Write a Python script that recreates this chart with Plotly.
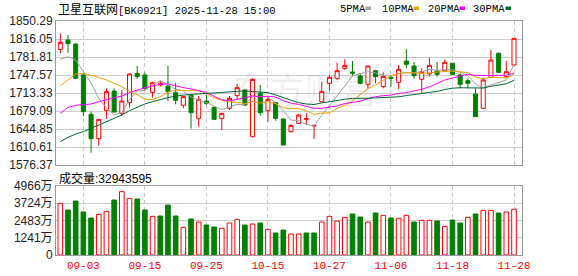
import plotly.graph_objects as go

# ---------------- data ----------------
dates = ["2025-08-29", "2025-09-01", "2025-09-02", "2025-09-03", "2025-09-04", "2025-09-05",
         "2025-09-08", "2025-09-09", "2025-09-10", "2025-09-11", "2025-09-12", "2025-09-15",
         "2025-09-16", "2025-09-17", "2025-09-18", "2025-09-19", "2025-09-22", "2025-09-23",
         "2025-09-24", "2025-09-25", "2025-09-26", "2025-09-29", "2025-09-30", "2025-10-09",
         "2025-10-10", "2025-10-13", "2025-10-14", "2025-10-15", "2025-10-16", "2025-10-17",
         "2025-10-20", "2025-10-21", "2025-10-22", "2025-10-23", "2025-10-24", "2025-10-27",
         "2025-10-28", "2025-10-29", "2025-10-30", "2025-10-31", "2025-11-03", "2025-11-04",
         "2025-11-05", "2025-11-06", "2025-11-07", "2025-11-10", "2025-11-11", "2025-11-12",
         "2025-11-13", "2025-11-14", "2025-11-17", "2025-11-18", "2025-11-19", "2025-11-20",
         "2025-11-21", "2025-11-24", "2025-11-25", "2025-11-26", "2025-11-27", "2025-11-28"]

open_ = [1796.4, 1814.2, 1806.5, 1747.6, 1672.7, 1626.4, 1680.4, 1717.1, 1674.6, 1694.9,
         1750.8, 1747.6, 1714.6, 1728.5, 1726.6, 1714.0, 1689.9, 1709.5, 1665.1, 1698.1,
         1686.1, 1665.1, 1684.2, 1708.3, 1719.0, 1630.3, 1712.7, 1679.7, 1694.9, 1663.9,
         1639.8, 1655.6, 1663.2, 1650.6, 1696.8, 1731.7, 1741.2, 1760.2, 1753.3, 1745.7,
         1729.8, 1755.8, 1725.4, 1743.1, 1733.6, 1774.2, 1764.7, 1739.3, 1749.5, 1755.2,
         1755.8, 1769.8, 1747.6, 1736.8, 1711.4, 1684.2, 1743.1, 1788.8, 1744.4, 1766.6]
high = [1826.8, 1823.7, 1808.0, 1750.8, 1677.8, 1664.0, 1722.2, 1722.2, 1719.0, 1750.8,
        1764.7, 1752.6, 1734.9, 1737.4, 1764.7, 1732.9, 1707.6, 1711.4, 1707.6, 1709.5,
        1687.0, 1675.9, 1707.6, 1730.4, 1720.3, 1741.2, 1728.5, 1707.6, 1696.8, 1664.5,
        1653.7, 1673.4, 1674.6, 1651.8, 1734.9, 1747.6, 1771.0, 1777.4, 1774.2, 1750.8,
        1765.3, 1757.1, 1752.6, 1747.6, 1766.6, 1797.0, 1772.3, 1760.2, 1781.2, 1772.3,
        1777.4, 1770.4, 1750.8, 1741.2, 1722.2, 1743.1, 1795.1, 1790.7, 1774.2, 1817.3]
low = [1788.8, 1790.1, 1739.3, 1669.6, 1599.8, 1613.1, 1663.9, 1675.9, 1669.6, 1685.4,
       1740.0, 1717.8, 1704.4, 1725.4, 1698.1, 1691.8, 1684.2, 1645.5, 1649.3, 1690.5,
       1662.0, 1642.9, 1681.0, 1701.9, 1688.6, 1629.0, 1670.2, 1658.8, 1660.7, 1613.8,
       1637.9, 1654.3, 1652.4, 1625.8, 1696.2, 1717.8, 1738.1, 1757.1, 1745.7, 1729.8,
       1722.2, 1731.7, 1722.2, 1725.4, 1720.9, 1760.2, 1740.6, 1711.4, 1744.4, 1744.4,
       1753.9, 1747.6, 1722.2, 1722.2, 1668.3, 1683.5, 1741.2, 1750.8, 1743.1, 1766.6]
close = [1809.7, 1807.2, 1741.2, 1677.8, 1626.4, 1663.2, 1715.9, 1677.2, 1698.1, 1749.5,
         1744.4, 1722.2, 1732.9, 1731.7, 1715.9, 1699.4, 1706.4, 1675.9, 1701.3, 1693.7,
         1663.2, 1674.6, 1703.2, 1723.5, 1690.5, 1739.3, 1675.9, 1701.3, 1665.1, 1614.4,
         1651.8, 1671.5, 1664.5, 1651.8, 1715.9, 1743.1, 1755.8, 1765.9, 1750.8, 1731.7,
         1764.7, 1744.4, 1745.0, 1741.2, 1758.4, 1767.9, 1746.3, 1753.9, 1765.9, 1748.8,
         1771.7, 1748.8, 1729.8, 1731.7, 1668.3, 1738.1, 1776.1, 1752.6, 1753.9, 1817.3]

ma5 = [1777.4, 1782.4, 1776.1, 1755.0, 1732.5, 1703.2, 1684.9, 1672.1, 1676.2, 1700.8,
       1717.0, 1718.3, 1729.4, 1736.1, 1729.4, 1720.4, 1717.3, 1705.9, 1699.8, 1695.3,
       1688.1, 1681.7, 1687.2, 1691.6, 1691.0, 1706.2, 1706.5, 1706.1, 1694.4, 1679.2,
       1661.7, 1660.8, 1653.5, 1650.8, 1671.1, 1689.4, 1706.2, 1726.5, 1746.3, 1749.5,
       1753.8, 1751.5, 1747.3, 1745.4, 1750.7, 1751.4, 1751.6, 1753.5, 1758.5, 1756.6,
       1757.3, 1757.8, 1753.0, 1746.2, 1730.1, 1723.3, 1728.8, 1733.4, 1737.8, 1767.6]
ma10 = [1727.3, 1738.0, 1749.5, 1750.7, 1747.6, 1743.1, 1738.1, 1731.7, 1725.4, 1716.6,
        1710.1, 1701.6, 1700.8, 1706.2, 1715.1, 1718.7, 1717.8, 1717.6, 1718.0, 1712.4,
        1704.3, 1699.5, 1696.5, 1695.7, 1693.2, 1697.2, 1694.1, 1696.7, 1693.0, 1685.1,
        1684.0, 1683.7, 1679.8, 1672.6, 1675.2, 1675.5, 1683.5, 1690.0, 1698.6, 1710.3,
        1721.6, 1728.9, 1736.9, 1745.8, 1750.0, 1752.5, 1751.6, 1750.4, 1751.9, 1753.6,
        1754.3, 1754.7, 1753.3, 1752.3, 1743.3, 1740.3, 1743.3, 1743.2, 1742.0, 1748.8]
ma20 = [1674.6, 1686.0, 1689.9, 1691.1, 1692.4, 1696.8, 1700.0, 1703.2, 1707.6, 1714.0,
        1719.0, 1723.5, 1726.6, 1729.8, 1730.4, 1726.6, 1723.5, 1720.9, 1717.8, 1714.5,
        1707.2, 1700.5, 1698.6, 1700.9, 1704.1, 1707.9, 1705.9, 1707.1, 1705.5, 1698.7,
        1694.1, 1691.6, 1688.2, 1684.2, 1684.2, 1686.3, 1688.8, 1693.3, 1695.8, 1697.7,
        1702.8, 1706.3, 1708.3, 1709.2, 1712.6, 1714.0, 1717.5, 1720.2, 1725.2, 1731.9,
        1737.9, 1741.8, 1745.1, 1749.1, 1746.7, 1746.4, 1747.4, 1746.8, 1746.9, 1751.2]
ma30 = [1620.8, 1629.0, 1635.3, 1639.8, 1646.1, 1652.5, 1658.8, 1663.9, 1671.5, 1679.7,
        1686.1, 1692.4, 1696.8, 1701.3, 1704.4, 1707.6, 1709.5, 1710.8, 1711.4, 1712.7,
        1714.0, 1715.2, 1716.5, 1716.5, 1717.1, 1716.5, 1715.9, 1714.0, 1709.5, 1704.7,
        1699.4, 1694.9, 1692.4, 1691.5, 1694.5, 1697.1, 1698.5, 1701.4, 1703.2, 1702.6,
        1703.3, 1704.0, 1704.4, 1704.7, 1706.1, 1708.4, 1709.7, 1712.3, 1714.5, 1716.3,
        1720.0, 1722.4, 1723.3, 1723.6, 1722.8, 1722.8, 1726.1, 1727.8, 1730.8, 1737.6]

# volume in units of 万 (10,000 shares)
volume = [3720, 3239, 3886, 3095, 2663, 2927, 3143, 3958, 4558, 4078,
          4030, 3239, 2783, 2807, 3598, 2807, 1991, 2591, 2375, 2159,
          2015, 1919, 2303, 2567, 2159, 2231, 2303, 1847, 1583, 1799,
          1511, 1511, 1583, 1583, 2375, 2783, 2447, 2711, 2951, 2735,
          2375, 3023, 2855, 2663, 2639, 2855, 2375, 2495, 2495, 2447,
          2063, 2519, 2303, 2711, 2951, 3215, 3215, 3023, 3095, 3294]
first_day_up = True
last_volume = "32943595"

price_ticks = [1576.37, 1610.61, 1644.85, 1679.09, 1713.33, 1747.57, 1781.81, 1816.05, 1850.29]
vol_ticks = [0, 1241.5, 2483, 3724.5, 4966]
vol_tick_text = ["0", "1241万", "2483万", "3724万", "4966万"]
date_tick_labels = ["09-03", "09-15", "09-25", "10-15", "10-27", "11-06", "11-18", "11-28"]

title_name = "卫星互联网"
title_rest = "[BK0921] 2025-11-28 15:00"
ma_names = ["5PMA", "10PMA", "20PMA", "30PMA"]

# ---------------- style ----------------
RED = "#ff0000"
GREEN = "#008000"
MA_COLORS = ["#a0a0a0", "#f0a000", "#ff00ff", "#006633"]
GRID = "#cccccc"
BORDER = "#999999"

W, H = 578, 276
ML, MR, MT, MB = 56, 56, 21, 21
PW = W - ML - MR
PH = H - MT - MB

def px_x(px):
    return (px - ML) / PW

def px_y(py):
    return (H - MB - py) / PH

idx = list(range(len(dates)))
tick_pos = [next(i for i, d in enumerate(dates) if d[5:] == lab) for lab in date_tick_labels]

fig = go.Figure()

fig.add_trace(go.Candlestick(
    x=idx, open=open_, high=high, low=low, close=close,
    increasing=dict(line=dict(color=RED, width=1), fillcolor="#ffffff"),
    decreasing=dict(line=dict(color=GREEN, width=1), fillcolor=GREEN),
    whiskerwidth=0, showlegend=False, hoverinfo="skip",
    xaxis="x", yaxis="y"))

for name, series, col in zip(ma_names, [ma5, ma10, ma20, ma30], MA_COLORS):
    fig.add_trace(go.Scatter(x=idx, y=series, mode="lines", name=name,
                             line=dict(color=col, width=1), showlegend=False,
                             hoverinfo="skip", xaxis="x", yaxis="y"))

vol_up = [first_day_up] + [close[i] >= close[i - 1] for i in range(1, len(close))]
fig.add_trace(go.Bar(
    x=idx, y=volume, width=0.6,
    marker=dict(color=["#ffffff" if u else GREEN for u in vol_up],
                line=dict(color=[RED if u else GREEN for u in vol_up], width=1)),
    showlegend=False, hoverinfo="skip", xaxis="x2", yaxis="y2"))

xr = [-0.56, 60.04]
main_dom = [px_y(165), 1]
vol_dom = [0, px_y(186)]

common_x = dict(range=xr, tickvals=tick_pos, showgrid=True, gridcolor=GRID,
                griddash="4px,3px", gridwidth=1, zeroline=False, showline=True,
                linecolor=BORDER, linewidth=1, mirror=True, ticks="", fixedrange=True,
                automargin=False)
common_y = dict(showgrid=True, gridcolor=GRID, zeroline=False, showline=True,
                linecolor=BORDER, mirror=True, ticks="", automargin=False, fixedrange=True)

fig.update_layout(
    width=W, height=H, margin=dict(l=ML, r=MR, t=MT, b=MB, autoexpand=False),
    paper_bgcolor="white", plot_bgcolor="white", bargap=0.4,
    boxgap=0.25, showlegend=False,
    xaxis=dict(**common_x, domain=[0, 1], anchor="y", showticklabels=False,
               rangeslider=dict(visible=False)),
    xaxis2=dict(**common_x, domain=[0, 1], anchor="y2", matches="x",
                ticktext=date_tick_labels, showticklabels=True,
                tickfont=dict(family="Liberation Mono", size=11, color=RED)),
    yaxis=dict(**common_y, domain=main_dom, range=[price_ticks[0], price_ticks[-1]],
               tickvals=price_ticks, ticktext=[f"{v:.2f}" for v in price_ticks],
               tickfont=dict(family="Liberation Sans", size=12, color="#222222")),
    yaxis2=dict(**common_y, domain=vol_dom, range=[0, vol_ticks[-1]], tickvals=vol_ticks,
                ticktext=vol_tick_text,
                tickfont=dict(family="Liberation Sans, Noto Sans CJK SC", size=12,
                              color="#222222")),
)

annots = []
# title
annots.append(dict(xref="paper", yref="paper", x=px_x(56), y=px_y(9), xanchor="left",
                   yanchor="middle", showarrow=False,
                   text=f"<span style='font-family:Noto Sans CJK SC;font-size:12px'>{title_name}</span>{title_rest}",
                   font=dict(family="Liberation Mono", size=10.5, color="#000000")))
# legend text + squares
leg_x = [338, 380, 425.5, 471]
sq_x = [365.5, 413.5, 459.5, 505.5]
shapes = []
for name, lx, sx, col in zip(ma_names, leg_x, sq_x, MA_COLORS):
    annots.append(dict(xref="paper", yref="paper", x=px_x(lx), y=px_y(9), xanchor="left",
                       yanchor="middle", showarrow=False, text=name,
                       font=dict(family="Liberation Mono", size=10.5, color="#000000")))
    shapes.append(dict(type="rect", xref="paper", yref="paper",
                       x0=px_x(sx), x1=px_x(sx + 5.5), y0=px_y(10), y1=px_y(6.5),
                       fillcolor=col, line=dict(width=0)))
# volume header
annots.append(dict(xref="paper", yref="paper", x=px_x(57), y=px_y(177), xanchor="left",
                   yanchor="middle", showarrow=False,
                   text=f"<span style='font-family:Noto Sans CJK SC'>成交量</span>:{last_volume}",
                   font=dict(family="Liberation Sans", size=12, color="#000000")))
# watermark
annots.append(dict(xref="paper", yref="paper", x=px_x(305), y=px_y(88), xanchor="center",
                   yanchor="middle", showarrow=False, text="东方财富",
                   font=dict(family="Noto Sans CJK SC", size=36, color="rgba(0,0,0,0.06)")))

fig.update_layout(annotations=annots, shapes=shapes)
fig.write_html("out.html")
